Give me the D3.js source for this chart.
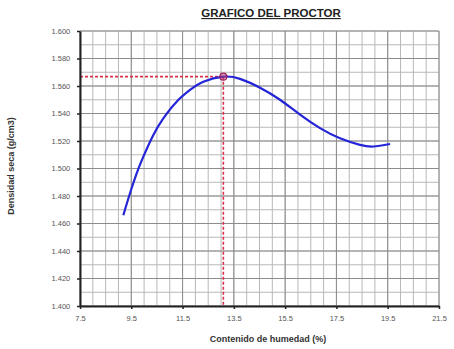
<!DOCTYPE html>
<html>
<head>
<meta charset="utf-8">
<script src="https://cdn.jsdelivr.net/npm/d3@7"></script>
<style>
  body { margin: 0; background: #fff; }
  text { font-family: "Liberation Sans", Arial, sans-serif; }
</style>
</head>
<body>
<div id="chart"></div>
<script>
// curve
var humedad = [9.19, 9.45, 9.71, 9.97, 10.36, 10.75, 11.27, 11.79, 12.31, 13.09, 13.74, 14.52, 15.30, 16.08, 16.86, 17.64, 18.42, 18.94, 19.59];
var densidad = [1.466, 1.482, 1.4965, 1.5086, 1.5244, 1.5365, 1.5486, 1.5571, 1.5631, 1.5668, 1.5652, 1.5588, 1.5500, 1.5392, 1.5294, 1.5220, 1.5172, 1.5160, 1.5178];
var optimo = [13.09, 1.5668];
var xTicks = [7.5, 9.5, 11.5, 13.5, 15.5, 17.5, 19.5, 21.5];
var yTicks = [1.400, 1.420, 1.440, 1.460, 1.480, 1.500, 1.520, 1.540, 1.560, 1.580, 1.600];

var W = 454, H = 349;
var margin = { top: 31, right: 15, bottom: 43, left: 80 };
var width = W - margin.left - margin.right;
var height = H - margin.top - margin.bottom;

var svg = d3.select("#chart").append("svg")
    .attr("width", W).attr("height", H);

var g = svg.append("g")
    .attr("transform", "translate(" + margin.left + "," + margin.top + ")");

var x = d3.scaleLinear().domain([7.5, 21.5]).range([0, width]);
var y = d3.scaleLinear().domain([1.4, 1.6]).range([height, 0]);

// grid: minor lines first, then the major ones
var xMinor = d3.range(7.5, 21.51, 0.5);
var yMinor = d3.range(1.4, 1.6001, 0.01);

g.selectAll(".vx").data(xMinor).enter().append("line")
    .attr("x1", d => x(d)).attr("x2", d => x(d))
    .attr("y1", 0).attr("y2", height)
    .attr("stroke", "#b8b8b8").attr("stroke-width", 1);
g.selectAll(".hy").data(yMinor).enter().append("line")
    .attr("x1", 0).attr("x2", width)
    .attr("y1", d => y(d)).attr("y2", d => y(d))
    .attr("stroke", "#b8b8b8").attr("stroke-width", 1);
g.selectAll(".vxM").data(xTicks).enter().append("line")
    .attr("x1", d => x(d)).attr("x2", d => x(d))
    .attr("y1", 0).attr("y2", height)
    .attr("stroke", "#8c8c8c").attr("stroke-width", 1);
g.selectAll(".hyM").data(yTicks).enter().append("line")
    .attr("x1", 0).attr("x2", width)
    .attr("y1", d => y(d)).attr("y2", d => y(d))
    .attr("stroke", "#8c8c8c").attr("stroke-width", 1);

// red dashed guides to the optimum
g.append("line")
    .attr("x1", 0).attr("x2", x(optimo[0]))
    .attr("y1", y(optimo[1])).attr("y2", y(optimo[1]))
    .attr("stroke", "#d9304a").attr("stroke-width", 1.6)
    .attr("stroke-dasharray", "3,2");
g.append("line")
    .attr("x1", x(optimo[0])).attr("x2", x(optimo[0]))
    .attr("y1", y(optimo[1])).attr("y2", height)
    .attr("stroke", "#d9304a").attr("stroke-width", 1.6)
    .attr("stroke-dasharray", "3,2");

// curve
var pts = humedad.map((h, i) => [h, densidad[i]]);
var line = d3.line().x(d => x(d[0])).y(d => y(d[1])).curve(d3.curveNatural);
g.append("path").datum(pts)
    .attr("d", line)
    .attr("fill", "none")
    .attr("stroke", "#2424d8")
    .attr("stroke-width", 2.2);

g.append("circle")
    .attr("cx", x(optimo[0])).attr("cy", y(optimo[1]))
    .attr("r", 3.5)
    .attr("fill", "#c03a6a").attr("fill-opacity", 0.5)
    .attr("stroke", "#9a1f5a").attr("stroke-width", 1.2);

// axes
var xAxis = g.append("g")
    .attr("transform", "translate(0," + height + ")")
    .call(d3.axisBottom(x).tickValues(xTicks).tickFormat(d3.format(".1f")).tickSize(3).tickSizeOuter(0));
var yAxis = g.append("g")
    .call(d3.axisLeft(y).tickValues(yTicks).tickFormat(d3.format(".3f")).tickSize(3).tickSizeOuter(0));

[xAxis, yAxis].forEach(function (a) {
    a.select(".domain").attr("stroke", "#222").attr("stroke-width", 2);
    a.selectAll(".tick line").attr("stroke", "#222").attr("stroke-width", 1.5);
    a.selectAll("text").attr("fill", "#555").style("font-size", "7.5px");
});
xAxis.selectAll("text").attr("dy", "1.2em");
yAxis.selectAll("text").attr("dx", "-0.5em");

// titles
svg.append("text")
    .attr("x", 271).attr("y", 17)
    .attr("text-anchor", "middle")
    .style("font-size", "11.5px").style("font-weight", "bold")
    .style("text-decoration", "underline")
    .attr("fill", "#222")
    .text("GRAFICO DEL PROCTOR");

svg.append("text")
    .attr("x", 268).attr("y", 342)
    .attr("text-anchor", "middle")
    .style("font-size", "9px").style("font-weight", "bold")
    .attr("fill", "#333")
    .text("Contenido de humedad (%)");

svg.append("text")
    .attr("transform", "translate(14,166) rotate(-90)")
    .attr("text-anchor", "middle")
    .style("font-size", "9px").style("font-weight", "bold")
    .attr("fill", "#333")
    .text("Densidad seca (g/cm3)");
</script>
</body>
</html>
